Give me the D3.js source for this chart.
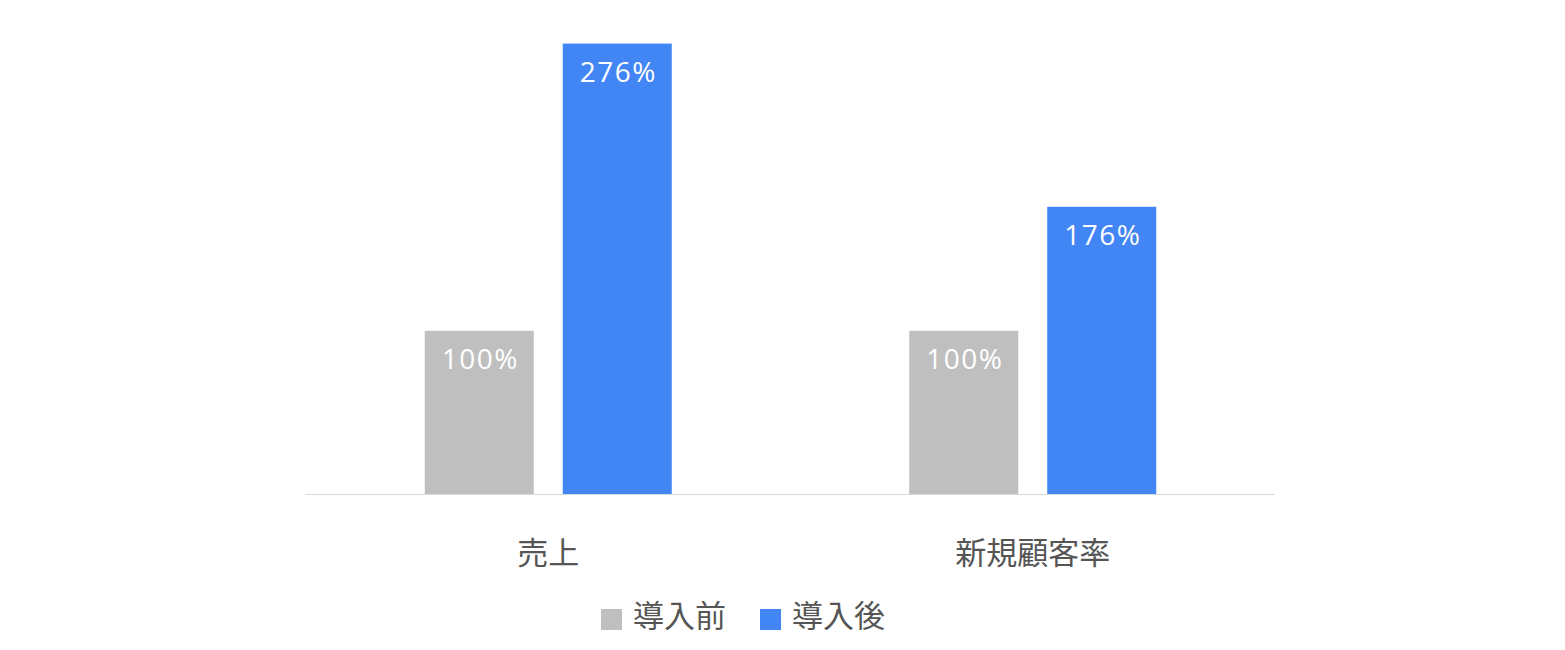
<!DOCTYPE html>
<html>
<head>
<meta charset="utf-8"/>
<script src="https://d3js.org/d3.v7.min.js"></script>
<style>
  body { margin: 0; background: #fff; }
  text { font-family: "Noto Sans CJK JP", Roboto, sans-serif; }
</style>
</head>
<body>
<script>
// data
var categories = ["売上", "新規顧客率"];
var seriesNames = ["導入前", "導入後"];
var before = [100, 100];
var after = [276, 176];
var colors = ["#bfbfbf", "#4285f4"];

var width = 1565, height = 650;
var left = 306, right = 1275, base = 494;

var svg = d3.select("body").append("svg")
  .attr("width", width)
  .attr("height", height);

var x0 = d3.scaleBand().domain(categories).range([left, right]);
var x1 = d3.scaleBand().domain(seriesNames).range([0, 247]).paddingInner(0.21);
var y = d3.scaleLinear().domain([0, 300]).range([base, base - 489.6]);

var rows = categories.map(function(c, i) {
  return { cat: c, vals: [before[i], after[i]] };
});

// bars
var g = svg.selectAll("g.grp").data(rows).enter().append("g")
  .attr("class", "grp")
  .attr("transform", function(d) {
    return "translate(" + (x0(d.cat) + x0.bandwidth() / 2 - 123.5) + ",0)";
  });

g.selectAll("rect").data(function(d) { return d.vals; }).enter().append("rect")
  .attr("x", function(d, i) { return x1(seriesNames[i]); })
  .attr("y", function(d) { return y(d); })
  .attr("width", x1.bandwidth())
  .attr("height", function(d) { return base - y(d); })
  .attr("fill", function(d, i) { return colors[i]; });

g.selectAll("text.val").data(function(d) { return d.vals; }).enter().append("text")
  .attr("class", "val")
  .attr("x", function(d, i) { return x1(seriesNames[i]) + x1.bandwidth() / 2 + 1; })
  .attr("y", function(d) { return y(d) + 38; })
  .attr("text-anchor", "middle")
  .attr("fill", "#fff")
  .style("font-family", "'Open Sans', sans-serif")
  .style("font-size", "28px")
  .style("letter-spacing", "1.5px")
  .text(function(d) { return d + "%"; });

// axis line
svg.append("line")
  .attr("x1", left - 1).attr("x2", right)
  .attr("y1", base + 0.5).attr("y2", base + 0.5)
  .attr("stroke", "#d9d9d9");

// category labels
svg.selectAll("text.cat").data(categories).enter().append("text")
  .attr("class", "cat")
  .attr("x", function(d) { return x0(d) + x0.bandwidth() / 2; })
  .attr("y", 564)
  .attr("text-anchor", "middle")
  .attr("fill", "#555")
  .style("font-size", "31px")
  .text(function(d) { return d; });

// legend
var legX = [601, 760];
var leg = svg.selectAll("g.leg").data(seriesNames).enter().append("g")
  .attr("class", "leg")
  .attr("transform", function(d, i) { return "translate(" + legX[i] + ",609)"; });
leg.append("rect")
  .attr("width", 21).attr("height", 21)
  .attr("fill", function(d, i) { return colors[i]; });
leg.append("text")
  .attr("x", 32).attr("y", 18)
  .attr("fill", "#555")
  .style("font-size", "31px")
  .text(function(d) { return d; });
</script>
</body>
</html>
